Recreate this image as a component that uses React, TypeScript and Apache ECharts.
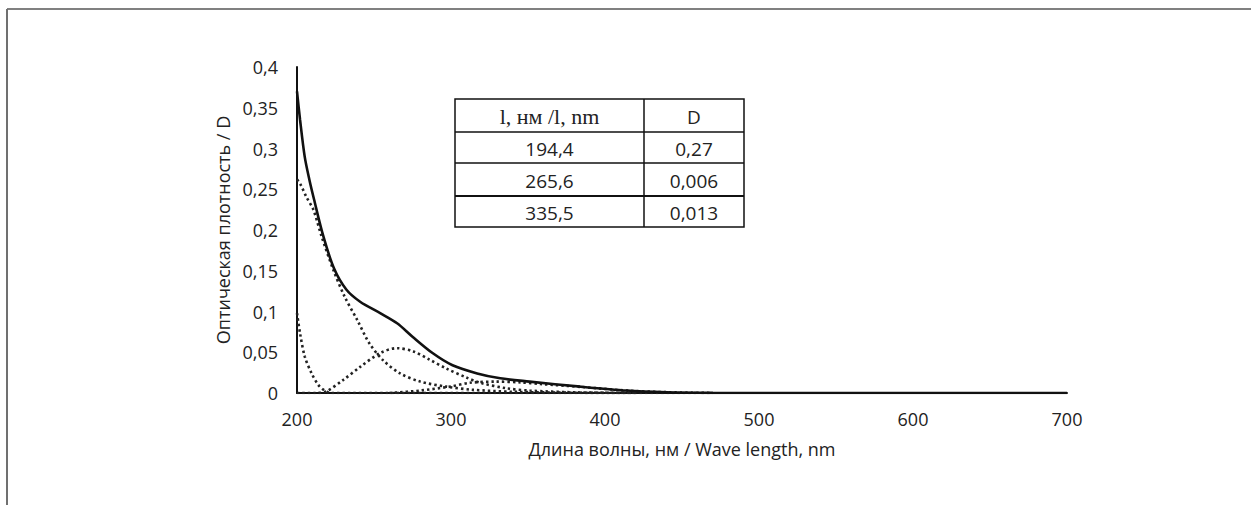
import React, { useEffect, useRef } from "react";
import * as echarts from "echarts";

// Axis ticks
const xMin = 200;
const xMax = 700;
const xStep = 100;
const yMin = 0;
const yMax = 0.4;
const yStep = 0.05;

// Total (measured) spectrum
const totalWl = [200, 202, 205, 208, 211, 217, 224, 232, 241, 254, 265, 275, 288, 301, 317, 332, 351, 384, 414, 440, 470, 500, 600, 700];
const totalD = [0.37, 0.335, 0.29, 0.262, 0.238, 0.193, 0.153, 0.127, 0.112, 0.098, 0.0855, 0.069, 0.049, 0.034, 0.024, 0.018, 0.014, 0.0078, 0.003, 0.001, 0.0002, 0, 0, 0];

// Component band ~194 nm
const bandAWl = [200, 202, 206, 210.6, 216, 223.6, 231, 239, 247, 256, 267, 280, 297, 314, 340, 380, 420];
const bandAD = [0.262, 0.257, 0.241, 0.225, 0.192, 0.151, 0.118, 0.09, 0.061, 0.04, 0.024, 0.014, 0.0078, 0.004, 0.0015, 0.0003, 0];

// Component band below 200 nm (narrow)
const bandDWl = [200, 202, 205, 209.5, 213.8, 218, 222, 300, 400, 460];
const bandDD = [0.098, 0.073, 0.045, 0.024, 0.01, 0.003, 0, 0, 0, 0];

// Component band ~265 nm
const bandBWl = [200, 212, 219, 230, 241, 254, 265, 275.5, 286, 297, 310, 319, 336, 351, 380, 420];
const bandBD = [0, 0, 0.002, 0.016, 0.032, 0.049, 0.055, 0.051, 0.041, 0.03, 0.019, 0.0125, 0.0058, 0.003, 0.0008, 0];

// Component band ~335 nm
const bandCWl = [260, 280, 300, 312, 329, 345, 358, 384, 414, 440, 470];
const bandCD = [0, 0.003, 0.008, 0.0125, 0.014, 0.013, 0.011, 0.0075, 0.003, 0.001, 0];

// Inset table
const tableHeader = ["l, нм /l, nm", "D"];
const tableWavelengths = ["194,4", "265,6", "335,5"];
const tableValues = ["0,27", "0,006", "0,013"];

const xTitle = "Длина волны, нм / Wave length, nm";
const yTitle = "Оптическая плотность / D";

const pairs = (xs: number[], ys: number[]) => xs.map((x, i) => [x, ys[i]]);

const FONT = "'Open Sans', sans-serif";

function buildTable() {
  const left = 455;
  const right = 744;
  const mid = 644;
  const rowsY = [99, 132, 163, 196, 227];
  const els: any[] = [];
  els.push({
    type: "rect",
    shape: { x: left, y: rowsY[0], width: right - left, height: rowsY[4] - rowsY[0] },
    style: { fill: "#fff", stroke: "#111", lineWidth: 1.5 },
  });
  for (let i = 1; i < 4; i++) {
    els.push({
      type: "line",
      shape: { x1: left, y1: rowsY[i], x2: right, y2: rowsY[i] },
      style: { stroke: "#111", lineWidth: i === 3 ? 2 : 1.5 },
    });
  }
  els.push({
    type: "line",
    shape: { x1: mid, y1: rowsY[0], x2: mid, y2: rowsY[4] },
    style: { stroke: "#111", lineWidth: 1.5 },
  });
  const c1 = (left + mid) / 2;
  const c2 = (mid + right) / 2;
  const rowText = (col: number, yTop: number, yBot: number, text: string, serif: boolean) => ({
    type: "text",
    x: col,
    y: (yTop + yBot) / 2 + 1,
    style: {
      text,
      fill: "#222",
      font: serif ? "22px 'Liberation Serif', serif" : `19px ${FONT}`,
      align: "center",
      verticalAlign: "middle",
    },
  });
  els.push(rowText(c1, rowsY[0], rowsY[1], tableHeader[0], true));
  els.push(rowText(c2, rowsY[0], rowsY[1], tableHeader[1], false));
  tableWavelengths.forEach((w, i) => {
    els.push(rowText(c1, rowsY[i + 1], rowsY[i + 2], w, false));
    els.push(rowText(c2, rowsY[i + 1], rowsY[i + 2], tableValues[i], false));
  });
  return els;
}

export default function App() {
  const ref = useRef<HTMLDivElement>(null);
  useEffect(() => {
    if (!ref.current) return;
    const chart = echarts.init(ref.current, undefined, { renderer: "svg" });
    const dotted = {
      color: "#222",
      width: 2.6,
      type: [2.4, 3] as any,
    };
    const mk = (name: string, data: number[][], lineStyle: any, z = 2) => ({
      name,
      type: "line",
      data,
      smooth: 0.3,
      showSymbol: false,
      symbol: "none",
      lineStyle,
      z,
    });
    chart.setOption({
      animation: false,
      backgroundColor: "#fff",
      grid: { left: 297, right: 184, top: 67, bottom: 112, containLabel: false },
      xAxis: {
        type: "value",
        min: xMin,
        max: xMax,
        interval: xStep,
        name: xTitle,
        nameLocation: "middle",
        nameGap: 47,
        nameTextStyle: { color: "#222", fontFamily: FONT, fontSize: 18 },
        axisLine: { show: true, onZero: false, lineStyle: { color: "#111", width: 2 } },
        axisTick: { show: false },
        splitLine: { show: false },
        axisLabel: { color: "#222", fontFamily: FONT, fontSize: 18, margin: 17 },
      },
      yAxis: {
        type: "value",
        min: yMin,
        max: yMax,
        interval: yStep,
        name: yTitle,
        nameLocation: "middle",
        nameGap: 61,
        nameRotate: 90,
        nameTextStyle: { color: "#222", fontFamily: FONT, fontSize: 18 },
        axisLine: { show: true, lineStyle: { color: "#111", width: 2 } },
        axisTick: { show: false },
        splitLine: { show: false },
        axisLabel: {
          color: "#222",
          fontFamily: FONT,
          fontSize: 18,
          margin: 19,
          formatter: (v: number) => String(+v.toFixed(2)).replace(".", ","),
        },
      },
      series: [
        mk("D1", pairs(bandDWl, bandDD), dotted),
        mk("D2", pairs(bandAWl, bandAD), dotted),
        mk("D3", pairs(bandBWl, bandBD), dotted),
        mk("D4", pairs(bandCWl, bandCD), dotted),
        mk("Total", pairs(totalWl, totalD), { color: "#111", width: 2.6, type: "solid" }, 3),
      ],
      graphic: [
        {
          type: "line",
          shape: { x1: 7, y1: 9, x2: 1251, y2: 9 },
          style: { stroke: "#808080", lineWidth: 2 },
        },
        {
          type: "line",
          shape: { x1: 7, y1: 9, x2: 7, y2: 505 },
          style: { stroke: "#707070", lineWidth: 2 },
        },
        ...buildTable(),
      ],
    });
    return () => chart.dispose();
  }, []);
  return (
    <div
      ref={ref}
      style={{ position: "fixed", left: 0, top: 0, width: 1251, height: 505, background: "#fff" }}
    />
  );
}
